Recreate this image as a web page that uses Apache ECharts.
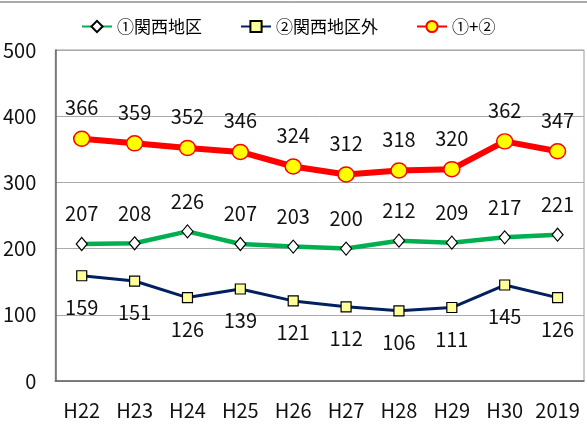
<!DOCTYPE html>
<html><head><meta charset="utf-8">
<script src="https://cdn.jsdelivr.net/npm/echarts@6/dist/echarts.min.js"></script>
<style>html,body{margin:0;padding:0;background:#fff}#c{width:587px;height:433px}</style>
</head><body><div id="c"></div>
<script>
const categories = ['H22','H23','H24','H25','H26','H27','H28','H29','H30','2019'];
const kansai = [207,208,226,207,203,200,212,209,217,221];
const outside = [159,151,126,139,121,112,106,111,145,126];
const total = [366,359,352,346,324,312,318,320,362,347];
const yTicks = {min:0, max:500, interval:100};
const FONT = '"Noto Sans CJK JP", sans-serif';
const NUMFONT = '"Noto Sans CJK JP", sans-serif';

const chart = echarts.init(document.getElementById('c'));
chart.setOption({
  animation:false,
  textStyle:{fontFamily:FONT},
  graphic:[{type:'line',shape:{x1:0,y1:2,x2:587,y2:2},style:{stroke:'#555',lineWidth:1}}],
  legend:{
    top:13, left:76, itemGap:38, itemWidth:30, itemHeight:14,
    textStyle:{fontSize:17,color:'#000',fontFamily:FONT},
    data:['①関西地区','②関西地区外','①+②']
  },
  grid:{left:52,right:3,top:50,bottom:52,show:true,borderColor:'#999',borderWidth:1},
  xAxis:{
    type:'category', data:categories, boundaryGap:true,
    axisLine:{lineStyle:{color:'#666',width:1.5}},
    axisTick:{inside:true,length:7,lineStyle:{color:'#888'}},
    axisLabel:{fontSize:20,color:'#111',margin:19,interval:0,fontFamily:NUMFONT}
  },
  yAxis:{
    type:'value', min:yTicks.min, max:yTicks.max, interval:yTicks.interval,
    axisLine:{show:true,lineStyle:{color:'#666',width:1.5}},
    axisTick:{show:false},
    splitLine:{lineStyle:{color:'#aaa',width:1}},
    axisLabel:{fontSize:20,color:'#111',margin:19,fontFamily:NUMFONT}
  },
  series:[
    {name:'①関西地区',type:'line',data:kansai,
     lineStyle:{color:'#00b050',width:4.5},
     itemStyle:{color:'#fff',borderColor:'#000',borderWidth:1.2},
     symbol:'diamond',symbolSize:[11,13],
     label:{show:true,position:'top',distance:13,fontSize:20,color:'#111',fontFamily:NUMFONT},z:3},
    {name:'②関西地区外',type:'line',data:outside,
     lineStyle:{color:'#002060',width:3},
     itemStyle:{color:'#ffff99',borderColor:'#000',borderWidth:1.2},
     symbol:'rect',symbolSize:10,
     label:{show:true,position:'bottom',distance:16,fontSize:20,color:'#111',fontFamily:NUMFONT},z:3},
    {name:'①+②',type:'line',data:total,
     lineStyle:{color:'#ff0000',width:6},
     itemStyle:{color:'#ffff00',borderColor:'#ff0000',borderWidth:1.5},
     symbol:'circle',symbolSize:[16,15],
     label:{show:true,position:'top',distance:13,fontSize:20,color:'#111',fontFamily:NUMFONT},z:4}
  ]
});
</script></body></html>
